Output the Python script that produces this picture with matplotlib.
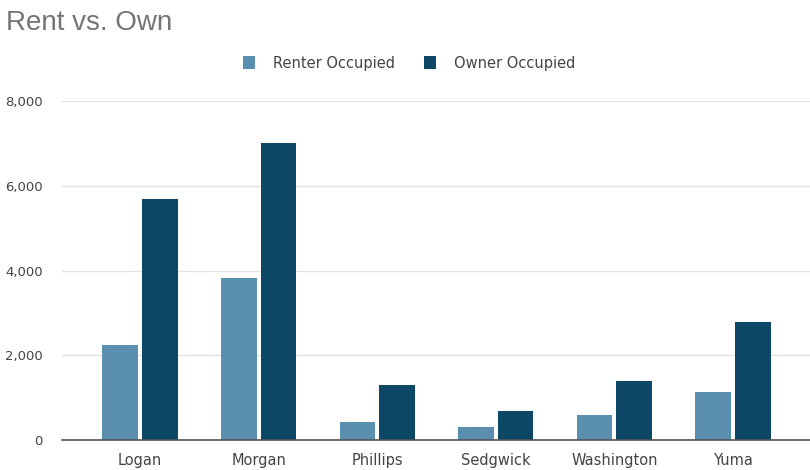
import numpy as np
import matplotlib
matplotlib.use('Agg')
import matplotlib.pyplot as plt
from matplotlib import rcParams

rcParams['font.family'] = ['DejaVu Sans']

counties = ['Logan', 'Morgan', 'Phillips', 'Sedgwick', 'Washington', 'Yuma']
renter = [2250, 3830, 430, 310, 590, 1130]
owner = [5700, 7010, 1300, 690, 1390, 2790]
y_ticks = [0, 2000, 4000, 6000, 8000]

renter_color = '#5a8fb0'
owner_color = '#0c4766'

fig = plt.figure(figsize=(8.1, 4.7), dpi=100)
ax = fig.add_axes([0.0765, 0.0638, 0.9235, 0.7212])

x = np.arange(len(counties))
w = 0.30
gap = 0.035
ax.bar(x - (w + gap) / 2, renter, width=w, color=renter_color, label='Renter Occupied', zorder=3)
ax.bar(x + (w + gap) / 2, owner, width=w, color=owner_color, label='Owner Occupied', zorder=3)

ax.set_xlim(-0.658, 5.65)
ax.set_ylim(0, 8000)
ax.set_yticks(y_ticks)
ax.set_yticklabels(['{:,}'.format(v) for v in y_ticks])
ax.set_xticks(x)
ax.set_xticklabels(counties)

ax.grid(axis='y', color='#e2e2e2', linewidth=1, zorder=0)
for s in ['top', 'right', 'left']:
    ax.spines[s].set_visible(False)
ax.spines['bottom'].set_color('#555555')
ax.spines['bottom'].set_linewidth(1.2)
ax.spines['bottom'].set_zorder(4)
ax.tick_params(axis='both', length=0, colors='#444444')
ax.tick_params(axis='x', labelsize=10.5, pad=9)
ax.tick_params(axis='y', labelsize=9.5, pad=14)

fig.text(0.008, 0.952, 'Rent vs. Own', fontsize=20, color='#757575', va='center', ha='left',
         family=['Liberation Sans', 'DejaVu Sans'])
fig.legend(loc='center', bbox_to_anchor=(0.505, 0.865), ncol=2, frameon=False,
           fontsize=10.5, handlelength=0.85, handleheight=1.0, columnspacing=2.0,
           handletextpad=1.2, labelcolor='#444444')

fig.savefig('out.png', dpi=100)
